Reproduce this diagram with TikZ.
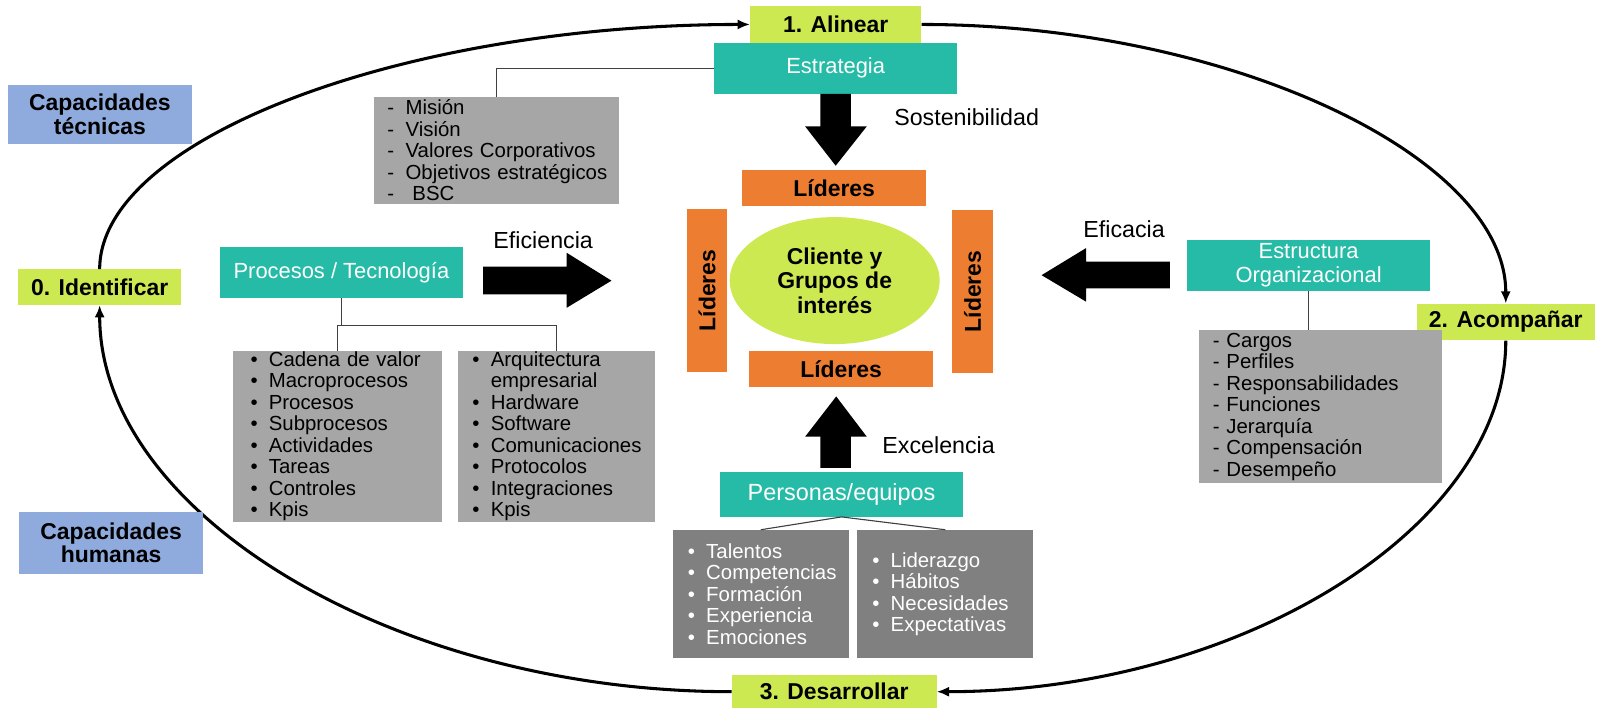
\documentclass[tikz,border=0pt]{standalone}
\usepackage{fontspec}
\setmainfont{Liberation Sans}
\usetikzlibrary{arrows.meta,shapes.geometric,calc}
\definecolor{verdelima}{RGB}{205,233,82}
\definecolor{turquesa}{RGB}{38,187,166}
\definecolor{naranja}{RGB}{237,125,49}
\definecolor{grisclaro}{RGB}{166,166,166}
\definecolor{grisoscuro}{RGB}{128,128,128}
\definecolor{azulcap}{RGB}{143,170,220}
\newcommand{\bul}{\makebox[18pt][l]{\textbullet}}
\newcommand{\gui}{\makebox[18pt][l]{-}}
\tikzset{
  etapa/.style={fill=verdelima, inner sep=0pt, font=\bfseries\fontsize{22.5}{24}\selectfont},
  area/.style={fill=turquesa, text=white, inner sep=0pt, align=center, font=\fontsize{21.5}{23.5}\selectfont},
  lista/.style={fill=grisclaro, inner ysep=0pt, align=left, font=\fontsize{20}{21.1}\selectfont},
  listaosc/.style={lista, fill=grisoscuro, text=white},
  lider/.style={fill=naranja, inner sep=0pt, font=\bfseries\fontsize{22.5}{24}\selectfont},
  capac/.style={fill=azulcap, inner sep=0pt, align=center, font=\bfseries\fontsize{22.5}{23}\selectfont},
  rama/.style={draw=black!75, line width=1.1pt},
  ciclo/.style={line width=3pt, -{Latex[length=12pt,width=10pt]}},
  lema/.style={font=\fontsize{22.8}{24}\selectfont}
}

\begin{document}
\begin{tikzpicture}[x=1pt,y=-1pt]
  \useasboundingbox (0,0) rectangle (1568,695.7);

  % etapas del ciclo
  \node[etapa, minimum width=168pt, minimum height=36pt] (alinear) at (820,24) {1. Alinear};
  \node[etapa, minimum width=175pt, minimum height=36pt] (acomp) at (1477.5,316) {2. Acompañar};
  \node[etapa, minimum width=201pt, minimum height=32.6pt] (desarr) at (818.5,678.7) {3. Desarrollar};
  \node[etapa, minimum width=159.6pt, minimum height=35pt] (ident) at (97.8,281.8) {0. Identificar};

  \draw[ciclo] (ident.north) .. controls +(0,-128) and +(-340,0) .. (alinear.west);
  \draw[ciclo] (alinear.east) .. controls +(300,0) and +(0,-145) .. (acomp.north);
  \draw[ciclo] (acomp.south) .. controls +(0,185) and +(295,0) .. (desarr.east);
  \draw[ciclo] (desarr.west) .. controls +(-330,0) and +(0,205) .. (ident.south);

  \node[capac, minimum width=180pt, minimum height=58pt] (captec) at (98,112) {Capacidades\\técnicas};
  \node[capac, minimum width=180pt, minimum height=60.5pt] (caphum) at (109,532.75) {Capacidades\\humanas};

  % estrategia
  \node[area, minimum width=238pt, minimum height=50pt] (estrategia) at (820,67) {Estrategia};
  \node[lista, text width=214pt, inner xsep=13pt, minimum height=105pt] (mision) at (487,147.5)
    {\gui Misión\\\gui Visión\\\gui Valores Corporativos\\\gui \mbox{Objetivos estratégicos}\\\gui\ BSC};
  \draw[rama] (estrategia.west) -| (mision.north);

  % centro
  \node[ellipse, fill=verdelima, inner sep=0pt, minimum width=206pt, minimum height=124.6pt, align=center,
    font=\bfseries\fontsize{22.5}{24}\selectfont] (cliente) at (819,275.3) {Cliente y\\Grupos de\\interés};
  \node[lider, minimum width=181pt, minimum height=35pt] (lidsup) at (818.5,184.5) {Líderes};
  \node[lider, minimum width=180.6pt, minimum height=35.5pt] (lidinf) at (825.3,362.25) {Líderes};
  \node[lider, rotate=90, minimum width=160pt, minimum height=39.5pt] (lidizq) at (693.75,285) {Líderes};
  \node[lider, rotate=90, minimum width=160pt, minimum height=40.5pt] (lidder) at (954.25,286) {Líderes};

  % procesos / tecnologia
  \node[area, minimum width=238pt, minimum height=50pt] (procesos) at (335,267.5) {Procesos / Tecnología};
  \node[lista, text width=170.4pt, inner xsep=17.1pt, minimum height=167.5pt] (proc1) at (331,428)
    {\bul Cadena de valor\\\bul Macroprocesos\\\bul Procesos\\\bul Subprocesos\\\bul Actividades\\\bul Tareas\\\bul Controles\\\bul Kpis};
  \node[lista, text width=165.4pt, inner xsep=14pt, minimum height=167.5pt] (proc2) at (546.3,428)
    {\bul Arquitectura\\\hspace*{18pt}empresarial\\\bul Hardware\\\bul Software\\\bul Comunicaciones\\\bul Protocolos\\\bul Integraciones\\\bul Kpis};
  \draw[rama] (procesos.south) -- ++(0,26.5) coordinate (pt);
  \draw[rama] (proc1.north) |- (pt) -| (proc2.north);

  % personas
  \node[area, minimum width=238.5pt, minimum height=44pt, font=\fontsize{23}{25}\selectfont] (personas) at (825.75,485) {Personas/equipos};
  \node[listaosc, text width=143pt, inner xsep=15pt, minimum height=126pt] (pers1) at (746.5,583)
    {\bul Talentos\\\bul Competencias\\\bul Formación\\\bul Experiencia\\\bul Emociones};
  \node[listaosc, text width=143pt, inner xsep=15pt, minimum height=126pt] (pers2) at (927.5,583)
    {\bul Liderazgo\\\bul Hábitos\\\bul Necesidades\\\bul Expectativas};
  \draw[rama] (pers1.north) -- (personas.south) -- (pers2.north);

  % estructura
  \node[area, minimum width=238pt, minimum height=50pt] (estruct) at (1284,260.5) {Estructura\\Organizacional};
  \node[lista, text width=211pt, inner xsep=13.6pt, minimum height=150pt] (estr1) at (1295.6,399)
    {- Cargos\\- Perfiles\\- Responsabilidades\\- Funciones\\- Jerarquía\\- Compensación\\- Desempeño};
  \draw[rama] (estruct.south) -- (estruct.south |- estr1.north);

  % flechas de bloque
  \fill (805,92) -- (835,92) -- (835,124) -- (850.5,124) -- (820,162.6) -- (790,124) -- (805,124) -- cycle;
  \fill (805,459) -- (835,459) -- (835,428.5) -- (850.5,428.5) -- (820.5,389) -- (790,428.5) -- (805,428.5) -- cycle;
  \fill (474,261.7) -- (556,261.7) -- (556,248) -- (600,275.4) -- (556,302) -- (556,288.8) -- (474,288.8) -- cycle;
  \fill (1148,256.8) -- (1065.7,256.8) -- (1065.7,243.4) -- (1022,270) -- (1065.7,296) -- (1065.7,283) -- (1148,283) -- cycle;

  \node[lema] (sosten) at (948.5,115) {Sostenibilidad};
  \node[lema] (efic) at (533,235.5) {Eficiencia};
  \node[lema] (eficaz) at (1103,225) {Eficacia};
  \node[lema] (excel) at (921,436.7) {Excelencia};
\end{tikzpicture}
\end{document}
